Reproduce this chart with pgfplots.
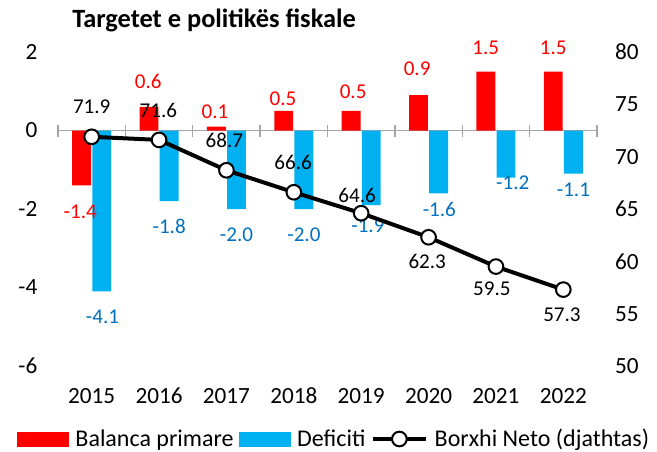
\documentclass[border=0pt]{standalone}
\usepackage{pgfplots}
\pgfplotsset{compat=1.18}
\usepackage{fontspec}
\setmainfont{Carlito}

\definecolor{barred}{HTML}{FF0000}
\definecolor{barblue}{HTML}{00B0F0}
\definecolor{lblblue}{HTML}{0070C0}
\definecolor{axgray}{HTML}{A6A6A6}

\pgfplotsset{
  base/.style={
    at={(0,0)}, anchor=south west,
    width=404.25pt, height=235.5pt, scale only axis,
    xmin=-0.5, xmax=7.5, clip=false,
    /pgf/number format/assume math mode=true,
    ticklabel style={font=\fontsize{17.4}{20}\selectfont},
  },
  lbl/.style={draw=none, mark=none, forget plot, nodes near coords,
    point meta=explicit symbolic, nodes near coords align={anchor=center},
    every node near coord/.append style={font=\fontsize{15.8}{18}\selectfont, text=#1}},
}

\begin{document}
\begin{tikzpicture}
% zero line with separators
\begin{axis}[base, ymin=-6, ymax=2,
  axis x line*=middle, axis y line=none,
  xtick={-0.5,0.5,...,7.5}, xticklabels={},
  tick align=center, major tick length=9pt,
  x axis line style={axgray, line width=1pt},
  x tick style={axgray, line width=1pt},
  ytick=\empty]
\end{axis}

% bars, left axis
\begin{axis}[base, ymin=-6, ymax=2,
  axis x line*=bottom, axis y line*=left,
  axis line style={draw=none}, tick style={draw=none},
  xtick={0,...,7}, xticklabels={2015,2016,2017,2018,2019,2020,2021,2022},
  ytick={-6,-4,-2,0,2},
  xticklabel style={yshift=-13pt},
  yticklabel style={xshift=-12pt}]
\addplot[ybar, bar width=0.28, bar shift=-0.15, fill=barred, draw=none]
  coordinates {(0,-1.4) (1,0.6) (2,0.1) (3,0.5) (4,0.5) (5,0.9) (6,1.5) (7,1.5)};
\addplot[ybar, bar width=0.28, bar shift=0.15, fill=barblue, draw=none]
  coordinates {(0,-4.1) (1,-1.8) (2,-2.0) (3,-2.0) (4,-1.9) (5,-1.6) (6,-1.2) (7,-1.1)};
% label positions
\addplot[lbl=barred] coordinates {
  (-0.17,-2.06) [-1.4] (0.84,1.25) [0.6] (1.83,0.48) [0.1] (2.84,0.82) [0.5]
  (3.88,1.0) [0.5] (4.83,1.58) [0.9] (5.85,2.11) [1.5] (6.85,2.11) [1.5]};
\addplot[lbl=lblblue] coordinates {
  (0.16,-4.74) [-4.1] (1.15,-2.45) [-1.8] (2.15,-2.65) [-2.0] (3.15,-2.65) [-2.0]
  (4.10,-2.42) [-1.9] (5.16,-2.01) [-1.6] (6.25,-1.33) [-1.2] (7.15,-1.5) [-1.1]};
\end{axis}

% net debt, right axis
\begin{axis}[base, ymin=50, ymax=80,
  axis y line*=right, axis x line=none,
  axis line style={draw=none}, tick style={draw=none},
  ytick={50,55,...,80},
  yticklabel style={xshift=10pt},
  legend style={at={(axis description cs:-0.0761,-0.2325)}, anchor=west,
    draw=none, fill=none, inner sep=0pt, font=\fontsize{18}{21}\selectfont,
    nodes={inner xsep=2pt},
    /tikz/every odd column/.append style={column sep=3pt},
    /tikz/every even column/.append style={column sep=2pt},
    /tikz/column 4/.append style={column sep=-11pt},
    /tikz/column 5/.append style={column sep=0pt}},
  legend columns=3, legend cell align=left]
\addlegendimage{legend image code/.code={\fill[barred] (0pt,-5.25pt) rectangle (38.25pt,5.25pt);}}
\addlegendimage{legend image code/.code={\fill[barblue] (0pt,-5.25pt) rectangle (38.25pt,5.25pt);}}
\addplot[black, line width=3pt, mark=*, mark size=5.5pt,
  mark options={fill=white, line width=1.5pt},
  legend image code/.code={
    \draw[black, line width=3pt] (0pt,0pt) -- (40pt,0pt);
    \draw[black, line width=1.5pt, fill=white] (20pt,0pt) circle (5.5pt);}]
  coordinates {(0,71.9) (1,71.6) (2,68.7) (3,66.6) (4,64.6) (5,62.3) (6,59.5) (7,57.3)};
\addplot[lbl=black] coordinates {
  (0.0,74.75) [71.9] (0.99,74.46) [71.6] (1.97,71.6) [68.7] (2.99,69.4) [66.6]
  (3.94,66.34) [64.6] (4.98,59.94) [62.3] (5.94,57.36) [59.5] (6.98,54.88) [57.3]};
\legend{Balanca primare, Deficiti, Borxhi Neto (djathtas)}
\end{axis}

\node[anchor=base west, inner sep=0pt, font=\fontsize{19.8}{23}\selectfont\bfseries]
  at (10.5pt,254.25pt) {Targetet e politikës fiskale};

\pgfresetboundingbox
\path[use as bounding box] (-43.5pt,-63.75pt) rectangle (449.25pt,274.5pt);
\end{tikzpicture}
\end{document}
